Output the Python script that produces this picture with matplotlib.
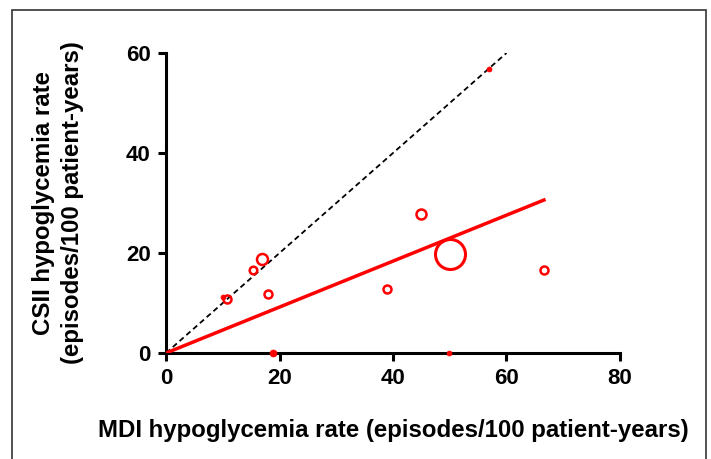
import matplotlib
matplotlib.use("Agg")
import matplotlib.pyplot as plt
from matplotlib.patches import Rectangle

plt.rcParams['font.family'] = ['Liberation Sans', 'DejaVu Sans']
plt.rcParams['font.weight'] = 'bold'

# studies: MDI rate vs CSII rate, marker size ~ study weight
mdi = [10.0, 10.8, 15.4, 17.0, 17.9, 18.9, 38.9, 44.9, 50.0, 49.9, 56.9, 66.6]
csii = [11.2, 10.8, 16.6, 18.9, 11.9, 0.0, 12.9, 27.9, 19.9, 0.0, 56.9, 16.7]
radius = [2.5, 4.0, 3.8, 5.5, 4.0, 3.5, 4.0, 5.0, 15.0, 2.5, 2.5, 4.0]
filled = [True, False, False, False, False, True, False, False, False, True, True, False]

fit_x = [0, 66.6]
fit_y = [0, 30.6]
ident = [0, 60]

fig = plt.figure(figsize=(7.11, 4.59), dpi=100)
ax = fig.add_axes([0.2335, 0.2309, 0.6385, 0.6536])

ax.plot(ident, ident, color='black', ls=(0, (3, 2)), lw=1.3, zorder=2)
ax.plot(fit_x, fit_y, color='red', lw=2.5, zorder=3)

for x, y, r, f in zip(mdi, csii, radius, filled):
    lw = 1.8 if r < 10 else 2.2
    ms = 2 * r * 0.72
    if f:
        ax.plot(x, y, 'o', ms=ms, mfc='red', mec='red', mew=0.5, zorder=4, clip_on=False)
    else:
        ax.plot(x, y, 'o', ms=ms, mfc='none', mec='red', mew=lw, zorder=4, clip_on=False)

ax.set_xlim(0, 80)
ax.set_ylim(0, 60)
ax.set_xticks([0, 20, 40, 60, 80])
ax.set_yticks([0, 20, 40, 60])
for s in ['top', 'right']:
    ax.spines[s].set_visible(False)
for s in ['left', 'bottom']:
    ax.spines[s].set_linewidth(2.2)
ax.tick_params(width=2.2, length=6, labelsize=16, pad=5)
for lab in ax.get_xticklabels() + ax.get_yticklabels():
    lab.set_fontweight('bold')

ax.set_xlabel('MDI hypoglycemia rate (episodes/100 patient-years)', fontsize=17.3, fontweight='bold', va='center')
ax.set_ylabel('CSII hypoglycemia rate\n(episodes/100 patient-years)', fontsize=17.3, fontweight='bold',
              linespacing=1.38, va='center')
ax.xaxis.set_label_coords(0.5, -0.257)
ax.yaxis.set_label_coords(-0.238, 0.5)

fig.patches.append(Rectangle((12 / 711, -0.05), 694 / 711, 1 - 10 / 459 + 0.05,
                             transform=fig.transFigure, fill=False, ec='#333333', lw=1.2))

fig.savefig('out.png', dpi=100)
